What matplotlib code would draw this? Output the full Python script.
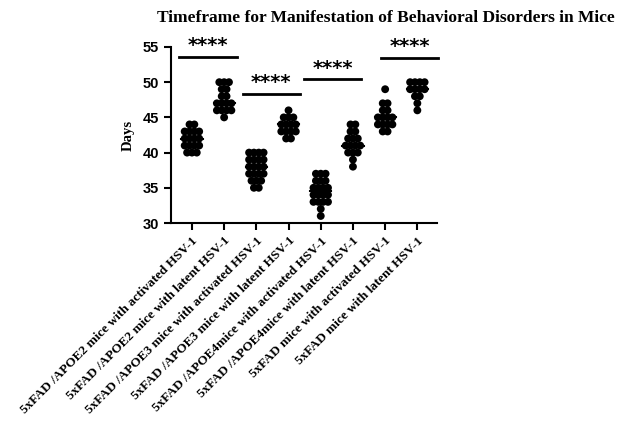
import numpy as np
import matplotlib
matplotlib.use("Agg")
import matplotlib.pyplot as plt

# group labels (x axis)
groups = [
    "5xFAD /APOE2 mice with activated HSV-1",
    "5xFAD /APOE2 mice with latent HSV-1",
    "5xFAD /APOE3 mice with activated HSV-1",
    "5xFAD /APOE3 mice with latent HSV-1",
    "5xFAD /APOE4mice with activated HSV-1",
    "5xFAD /APOE4mice with latent HSV-1",
    "5xFAD mice with activated HSV-1",
    "5xFAD mice with latent HSV-1",
]

# days per mouse
apoe2_act = [44, 44, 43, 43, 43, 43, 42, 42, 42, 42, 41, 41, 41, 41, 40, 40, 40]
apoe2_lat = [50, 50, 50, 49, 49, 48, 48, 47, 47, 47, 47, 46, 46, 46, 46, 45]
apoe3_act = [40, 40, 40, 40, 39, 39, 39, 39, 38, 38, 38, 38, 37, 37, 37, 37,
             36, 36, 36, 35, 35]
apoe3_lat = [46, 45, 45, 45, 44, 44, 44, 44, 43, 43, 43, 43, 42, 42]
apoe4_act = [37, 37, 37, 36, 36, 36, 35, 35, 35, 35, 34, 34, 34, 34,
             33, 33, 33, 33, 32, 31]
apoe4_lat = [44, 44, 43, 43, 42, 42, 42, 41, 41, 41, 41, 40, 40, 40, 39, 38]
fad_act = [49, 47, 47, 46, 46, 45, 45, 45, 45, 44, 44, 44, 44, 43, 43]
fad_lat = [50, 50, 50, 50, 49, 49, 49, 49, 48, 48, 47, 46]

data = [apoe2_act, apoe2_lat, apoe3_act, apoe3_lat,
        apoe4_act, apoe4_lat, fad_act, fad_lat]

# significance brackets: (x start, x end, y)
sig_x0 = [-0.4, 1.58, 3.48, 5.87]
sig_x1 = [1.4, 3.35, 5.25, 7.64]
sig_y = [53.6, 48.3, 50.4, 53.5]
sig_text = ["****", "****", "****", "****"]

serif = ["Liberation Serif", "DejaVu Serif"]
sans = ["Liberation Sans", "DejaVu Sans"]

fig = plt.figure(figsize=(6.25, 4.21), dpi=100)
ax = fig.add_axes([0.2736, 0.4703, 0.4256, 0.4181])

dx = 0.15
for i, vals in enumerate(data):
    vals = np.array(vals)
    xs, ys = [], []
    for v in np.unique(vals):
        n = np.sum(vals == v)
        offs = (np.arange(n) - (n - 1) / 2) * dx
        xs.extend(i + offs)
        ys.extend([v] * n)
    ax.scatter(xs, ys, s=32, color="black", edgecolors="none", zorder=3)
    med = np.median(vals)
    ax.plot([i - 0.33, i + 0.33], [med, med], color="black", lw=1.5, zorder=4)

for x0, x1, y, t in zip(sig_x0, sig_x1, sig_y, sig_text):
    ax.plot([x0, x1], [y, y], color="black", lw=2, clip_on=False)
    ax.text((x0 + x1) / 2, y + 0.25, t, ha="center", va="bottom",
            fontsize=14, fontweight="bold", family=["DejaVu Sans"])

ax.set_xlim(-0.65, 7.61)
ax.set_ylim(30, 55)
ax.set_yticks(range(30, 56, 5))
ax.set_xticks(range(len(groups)))
ax.set_xticklabels(groups, rotation=45, ha="right", rotation_mode="anchor",
                   fontsize=9.5, fontweight="bold", family=serif)
for lbl in ax.get_yticklabels():
    lbl.set_fontweight("bold")
    lbl.set_family(sans)
    lbl.set_fontsize(10.5)

for side in ["top", "right"]:
    ax.spines[side].set_visible(False)
for side in ["left", "bottom"]:
    ax.spines[side].set_linewidth(1.5)
ax.tick_params(width=1.5, length=5)

ax.set_ylabel("Days", fontsize=10.5, fontweight="bold", family=serif, labelpad=6)

fig.text(0.618, 0.957, "Timeframe for Manifestation of Behavioral Disorders in Mice",
         ha="center", va="center", fontsize=12.5, fontweight="bold", family=serif)

fig.savefig("out.png", dpi=100)
